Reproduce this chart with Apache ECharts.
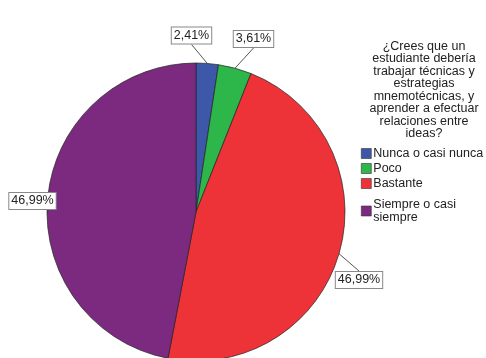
<!DOCTYPE html>
<html><head><meta charset="utf-8">
<script src="https://cdn.jsdelivr.net/npm/echarts@6/dist/echarts.min.js"></script>
<style>html,body{margin:0;padding:0;background:#fff}#c{width:486px;height:358px}</style>
</head><body><div id="c"></div>
<script>
const categories = ['Nunca o casi nunca', 'Poco', 'Bastante', 'Siempre o casi siempre'];
const values = [2.41, 3.61, 46.99, 46.99];
const colors = ['#3d58a9', '#2db64a', '#ee3338', '#7b2a7f'];
const legendTitle = '¿Crees que un\nestudiante debería\ntrabajar técnicas y\nestrategias\nmnemotécnicas, y\naprender a efectuar\nrelaciones entre\nideas?';

const font = '"Liberation Sans", Arial, sans-serif';
const labelCenters = [[191.5, 35.5], [253.5, 39], [359, 280], [32.5, 201]];

const legendBase = {
  orient: 'vertical',
  left: 361,
  padding: 0,
  itemWidth: 10,
  itemHeight: 10,
  itemGap: 2,
  icon: 'rect',
  itemStyle: {borderColor: '#333', borderWidth: 0.6},
  textStyle: {fontFamily: font, fontSize: 12.5, color: '#222', lineHeight: 13, padding: [0, 0, 0, -3]},
  formatter: function (n) { return n === 'Siempre o casi siempre' ? 'Siempre o casi\nsiempre' : n; }
};

const chart = echarts.init(document.getElementById('c'), null, {renderer: 'canvas'});
chart.setOption({
  animation: false,
  color: colors,
  legend: [
    Object.assign({}, legendBase, {top: 147, data: categories.slice(0, 3)}),
    Object.assign({}, legendBase, {top: 198, data: categories.slice(3)})
  ],
  graphic: [{
    type: 'text',
    x: 424, y: 40,
    style: {
      text: legendTitle,
      align: 'center',
      fontFamily: font,
      fontSize: 12.5,
      lineHeight: 12.5,
      fill: '#222'
    }
  }],
  series: [{
    type: 'pie',
    center: [196, 212],
    radius: 149,
    startAngle: 90,
    clockwise: true,
    avoidLabelOverlap: false,
    data: categories.map((c, i) => ({name: c, value: values[i]})),
    itemStyle: {borderColor: '#222', borderWidth: 0.7},
    label: {
      show: true,
      position: 'outside',
      formatter: p => p.value.toFixed(2).replace('.', ',') + '%',
      fontFamily: font,
      fontSize: 12.5,
      color: '#222',
      backgroundColor: '#fff',
      borderColor: '#888',
      borderWidth: 1,
      padding: [2, 2, 1, 2]
    },
    labelLine: {show: true, length: 0, length2: 0, lineStyle: {color: '#555', width: 1}},
    labelLayout: function (p) {
      const c = labelCenters[p.dataIndex];
      return {x: c[0], y: c[1], align: 'center', verticalAlign: 'middle'};
    },
    emphasis: {disabled: true}
  }]
});
</script>
</body></html>
